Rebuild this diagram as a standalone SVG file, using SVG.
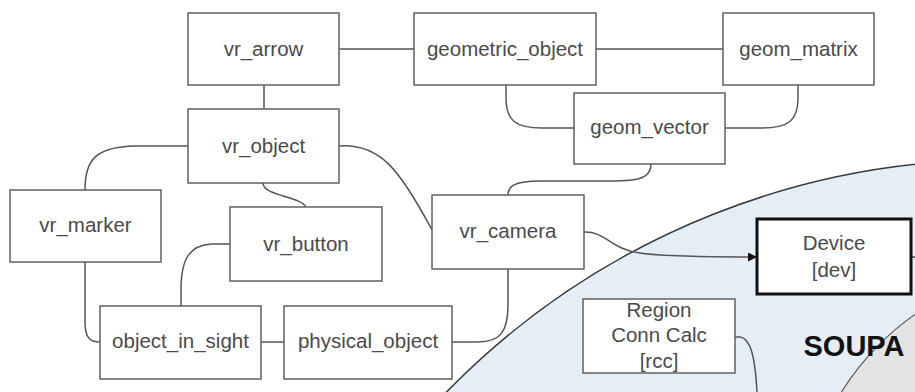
<svg xmlns="http://www.w3.org/2000/svg" width="915" height="392" viewBox="0 0 915 392">
<defs>
<style>
.box{fill:#fff;stroke:#606060;stroke-width:1.5}
.thick{fill:#fff;stroke:#111;stroke-width:3}
.lbl{font-family:"Liberation Sans",Arial,sans-serif;font-size:20.5px;fill:#4a4a4a;text-anchor:middle}
.big{font-family:"Liberation Sans",Arial,sans-serif;font-size:29px;font-weight:bold;fill:#111;text-anchor:middle}
.con{fill:none;stroke:#555;stroke-width:1.5}
</style>
<marker id="arr" viewBox="0 0 10 10" refX="10" refY="5" markerWidth="9" markerHeight="9" markerUnits="userSpaceOnUse" orient="auto">
<path d="M0,0 L10,5 L0,10 z" fill="#111"/>
</marker>
</defs>
<rect width="915" height="392" fill="#fff"/>
<g id="regions">
<circle cx="997" cy="929" r="769" fill="#e5edf7" stroke="#3a3a3a" stroke-width="1.5"/>
<circle cx="1066" cy="531" r="264" fill="#e3e3e3" stroke="#555" stroke-width="1.2"/>
</g>
<g id="connectors">
<path class="con" d="M339,49 H414"/>
<path class="con" d="M596,49 H723"/>
<path class="con" d="M264,85 V109"/>
<path class="con" d="M506,85 V98 C506,120 515,128 542,128 H574"/>
<path class="con" d="M798,85 V98 C798,120 789,128 762,128 H725"/>
<path class="con" d="M651,164 C651,178 640,181 610,181 L540,181 C515,181 508,186 508,195"/>
<path class="con" d="M188,146 H135 C95,147 85,160 85,190"/>
<path class="con" d="M263,183 C263,196 300,196 306,207"/>
<path class="con" d="M339,146 C380,143 400,170 432,230"/>
<path class="con" d="M85,262 V322 C85,338 90,342 100,342"/>
<path class="con" d="M230,244 H212 C190,245 181,258 181,290 V306"/>
<path class="con" d="M261,342 H284"/>
<path class="con" d="M452,342 H478 C500,342 508,332 508,305 V269"/>
<path class="con" d="M584,232 C605,231 612,250 640,253 C660,256 690,257 757,257" marker-end="url(#arr)"/>
<path class="con" d="M911,257 H915"/>
<path class="con" d="M735,337 H740 C750,338 755,355 757,392"/>
</g>
<g id="vr_arrow"><rect class="box" x="188" y="13" width="151" height="72"/><text class="lbl" x="263.5" y="56">vr_arrow</text></g>
<g id="geometric_object"><rect class="box" x="414" y="13" width="182" height="72"/><text class="lbl" x="505" y="56">geometric_object</text></g>
<g id="geom_matrix"><rect class="box" x="723" y="13" width="151" height="72"/><text class="lbl" x="798.5" y="56">geom_matrix</text></g>
<g id="geom_vector"><rect class="box" x="574" y="93" width="151" height="71"/><text class="lbl" x="649.5" y="134">geom_vector</text></g>
<g id="vr_object"><rect class="box" x="188" y="109" width="151" height="74"/><text class="lbl" x="263.5" y="153">vr_object</text></g>
<g id="vr_marker"><rect class="box" x="10" y="190" width="151" height="72"/><text class="lbl" x="85.5" y="232">vr_marker</text></g>
<g id="vr_button"><rect class="box" x="230" y="207" width="152" height="74"/><text class="lbl" x="306" y="251">vr_button</text></g>
<g id="vr_camera"><rect class="box" x="432" y="195" width="152" height="74"/><text class="lbl" x="508" y="238">vr_camera</text></g>
<g id="object_in_sight"><rect class="box" x="100" y="306" width="161" height="73"/><text class="lbl" x="180.5" y="348">object_in_sight</text></g>
<g id="physical_object"><rect class="box" x="284" y="306" width="168" height="73"/><text class="lbl" x="368" y="348">physical_object</text></g>
<g id="device"><rect class="thick" x="757" y="219" width="154" height="75"/><text class="lbl" x="834" y="250">Device</text><text class="lbl" x="834" y="277">[dev]</text></g>
<g id="region_conn_calc"><rect class="box" x="583" y="299" width="152" height="74"/><text class="lbl" x="659" y="317">Region</text><text class="lbl" x="659" y="342">Conn Calc</text><text class="lbl" x="659" y="368">[rcc]</text></g>
<g id="soupa"><text class="big" x="854" y="356">SOUPA</text></g>
</svg>
